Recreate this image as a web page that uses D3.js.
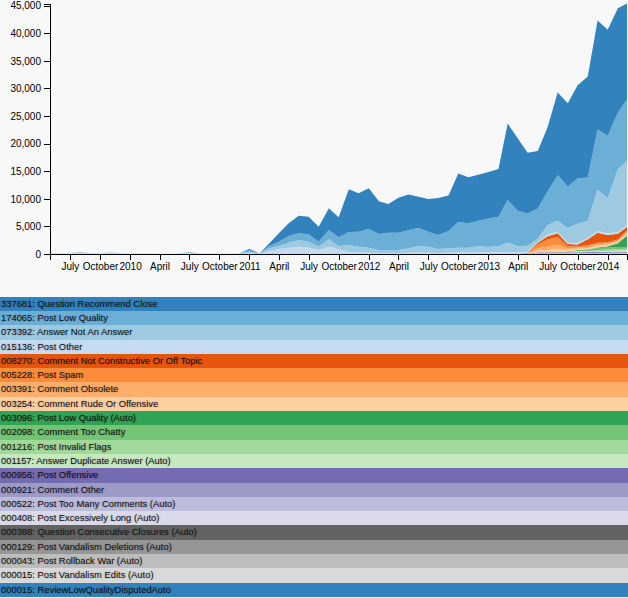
<!DOCTYPE html>
<html>
<head>
<meta charset="utf-8">
<script src="https://cdnjs.cloudflare.com/ajax/libs/d3/7.8.5/d3.min.js"></script>
<style>
  html, body { margin: 0; padding: 0; background: #f8f8f8; }
  svg { display: block; position: absolute; left: 0; top: 0; }
  .axis text { font: 10px "Liberation Sans", Arial, sans-serif; fill: #000; }
  .axis path, .axis line { fill: none; stroke: #000; shape-rendering: crispEdges; }
  #legend { position: absolute; left: 0; top: 296.7px; width: 628px; }
  #legend div { height: 14.3px; line-height: 14.3px; font: 9.4px/14.3px "Liberation Sans", Arial, sans-serif;
    color: #111; padding-left: 1px; white-space: nowrap; overflow: hidden;
    text-shadow: 0 0 2px rgba(0,0,0,0.3); }
</style>
</head>
<body>
<svg id="chart" width="628" height="290"></svg>
<div id="legend"></div>
<script>
// ---- data ----
const months = ["2009-05","2009-06","2009-07","2009-08","2009-09","2009-10","2009-11","2009-12",
  "2010-01","2010-02","2010-03","2010-04","2010-05","2010-06","2010-07","2010-08","2010-09","2010-10","2010-11","2010-12",
  "2011-01","2011-02","2011-03","2011-04","2011-05","2011-06","2011-07","2011-08","2011-09","2011-10","2011-11","2011-12",
  "2012-01","2012-02","2012-03","2012-04","2012-05","2012-06","2012-07","2012-08","2012-09","2012-10","2012-11","2012-12",
  "2013-01","2013-02","2013-03","2013-04","2013-05","2013-06","2013-07","2013-08","2013-09","2013-10","2013-11","2013-12",
  "2014-01","2014-02","2014-03"];

const seriesNames = ["Question Recommend Close","Post Low Quality","Answer Not An Answer","Post Other",
  "Comment Not Constructive Or Off Topic","Post Spam","Comment Obsolete","Comment Rude Or Offensive",
  "Post Low Quality (Auto)","Comment Too Chatty","Post Invalid Flags","Answer Duplicate Answer (Auto)",
  "Post Offensive","Comment Other","Post Too Many Comments (Auto)","Post Excessively Long (Auto)",
  "Question Consecutive Closures (Auto)","Post Vandalism Deletions (Auto)","Post Rollback War (Auto)",
  "Post Vandalism Edits (Auto)","ReviewLowQualityDisputedAuto"];

const seriesTotals = [337681,174065,73392,15136,8270,5228,3391,3254,3096,2098,1216,1157,956,921,522,408,388,129,43,15,15];

const questionRecommendClose = [0,0,0,50,0,0,0,0, 0,0,0,0,0,0,50,0,0,0,0,0,
  200,0,400,1520,2300,3190,3190,2715,3930,3620,7730,6950,
  7370,5920,5200,6335,6515,5665,5920,6700,6460,8815,8330,8330,
  8420,8640,13890,13110,11010,10410,11660,14980,15085,16915,18290,19740,
  19200,18900,17400];
const postLowQuality = [0,0,0,50,0,0,50,0, 0,0,0,0,0,0,50,0,0,0,0,0,
  350,0,400,724,1210,1210,1340,905,1680,1575,2355,2715,
  3385,2900,3130,3130,3260,3260,2715,2535,3130,4650,4415,4580,
  5160,5305,7730,6390,5870,5430,6030,8275,7550,8150,7840,10865,
  11280,10250,11155];
const answerNotAnAnswer = [50,50,50,100,50,50,100,50, 50,50,30,20,20,30,100,50,30,20,20,50,
  250,50,500,600,905,1210,1090,600,1340,600,1280,1043,
  900,520,520,520,790,1168,1080,703,790,863,863,1145,
  960,1145,1695,1145,1063,628,1750,1980,2648,3550,3080,7545,
  6400,11415,11600];
const postOther = [80,60,80,120,80,60,120,80, 60,60,40,30,30,40,120,60,40,20,20,60,
  160,40,500,905,1140,1320,1140,725,1320,850,350,280,
  240,200,200,200,240,280,240,200,240,280,280,300,
  300,300,350,300,260,150,300,300,250,250,250,300,
  300,300,280];
const commentNotConstructive = new Array(48).fill(0).concat([50,300,600,700,400,350,1100,1800,1300,1000,700]);
const postSpam              = new Array(48).fill(0).concat([50,700,1300,1300,400,250,300,300,250,200,250]);
const commentObsolete       = new Array(48).fill(0).concat([30,400,600,800,250,200,200,250,200,200,300]);
const commentRude           = new Array(48).fill(0).concat([30,300,400,600,250,200,250,300,300,300,350]);
const postLowQualityAuto    = new Array(48).fill(0).concat([0,0,0,0,0,0,0,100,200,700,2100]);
const commentTooChatty      = new Array(48).fill(0).concat([0,0,0,0,100,200,300,400,400,400,300]);
const postInvalidFlags      = new Array(48).fill(0).concat([0,0,0,0,66,100,100,200,250,250,250]);
const answerDuplicateAuto   = new Array(48).fill(0).concat([0,0,0,0,0,107,100,150,200,250,350]);
const postOffensive         = new Array(48).fill(0).concat([0,90,90,100,90,90,100,100,100,100,96]);
const commentOther          = new Array(48).fill(0).concat([0,90,90,90,90,90,90,95,95,95,96]);
const postTooManyComments   = new Array(48).fill(0).concat([0,52,52,52,52,52,52,52,52,52,54]);
const postExcessivelyLong   = new Array(48).fill(0).concat([0,40,40,40,40,40,40,40,40,40,48]);
const questionConsecutive   = new Array(48).fill(0).concat([0,38,38,38,38,38,39,39,40,40,40]);
const postVandalismDeletions= new Array(48).fill(0).concat([0,12,12,13,13,13,13,13,13,13,14]);
const postRollbackWar       = new Array(48).fill(0).concat([0,4,4,4,4,4,4,4,5,5,5]);
const postVandalismEdits    = new Array(48).fill(0).concat([0,1,1,1,2,2,2,2,2,1,1]);
const reviewLowQualityDisputed = new Array(48).fill(0).concat([0,0,0,0,0,0,0,2,3,4,6]);

const seriesValues = [questionRecommendClose, postLowQuality, answerNotAnAnswer, postOther,
  commentNotConstructive, postSpam, commentObsolete, commentRude,
  postLowQualityAuto, commentTooChatty, postInvalidFlags, answerDuplicateAuto,
  postOffensive, commentOther, postTooManyComments, postExcessivelyLong,
  questionConsecutive, postVandalismDeletions, postRollbackWar, postVandalismEdits, reviewLowQualityDisputed];

const palette = ["#3182bd","#6baed6","#9ecae1","#c6dbef","#e6550d","#fd8d3c","#fdae6b","#fdd0a2",
  "#31a354","#74c476","#a1d99b","#c7e9c0","#756bb1","#9e9ac8","#bcbddc","#dadaeb",
  "#636363","#969696","#bdbdbd","#d9d9d9"];

// ---- build table ----
const parse = d3.timeParse("%Y-%m");
const table = months.map((m, i) => {
  const row = { date: parse(m) };
  seriesNames.forEach((n, j) => row[n] = seriesValues[j][i]);
  return row;
});

const svg = d3.select("#chart");
const x = d3.scaleTime().domain(d3.extent(table, d => d.date)).range([50, 627]);
const keysBottomUp = seriesNames.slice().reverse();
const stacked = d3.stack().keys(keysBottomUp)(table);
const yMax = d3.max(stacked[stacked.length - 1], d => d[1]);
const y = d3.scaleLinear().domain([0, yMax]).range([254, 3.5]);
const color = d3.scaleOrdinal().domain(seriesNames).range(palette);

const area = d3.area()
  .x(d => x(d.data.date))
  .y0(d => y(d[0]))
  .y1(d => y(d[1]));

svg.append("g").selectAll("path")
  .data(stacked)
  .join("path")
  .attr("d", area)
  .attr("fill", d => color(d.key));

const fmtMonth = d3.timeFormat("%B");
const xAxis = d3.axisBottom(x)
  .ticks(d3.timeMonth.every(3))
  .tickFormat(d => d.getMonth() === 0 ? d.getFullYear() : fmtMonth(d));
svg.append("g").attr("class", "axis").attr("transform", "translate(0,254)").call(xAxis);

const yAxis = d3.axisLeft(y).tickValues(d3.range(0, 45001, 5000)).tickFormat(d3.format(","));
svg.append("g").attr("class", "axis").attr("transform", "translate(50,0)").call(yAxis);

// ---- legend ----
d3.select("#legend").selectAll("div").data(seriesNames).join("div")
  .style("background", (d, i) => palette[i % palette.length])
  .text((d, i) => d3.format("06d")(seriesTotals[i]) + ": " + d);
</script>
</body>
</html>
